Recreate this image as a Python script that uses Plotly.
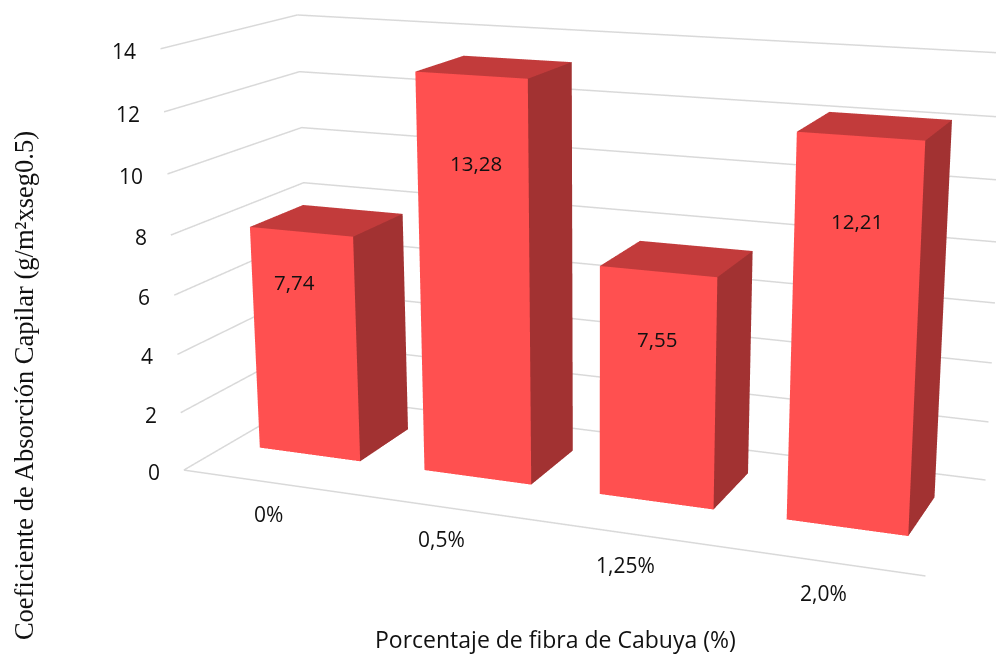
import plotly.graph_objects as go

categories = ["0%", "0,5%", "1,25%", "2,0%"]
values = [7.74, 13.28, 7.55, 12.21]
labels = ["7,74", "13,28", "7,55", "12,21"]
z_ticks = [0, 2, 4, 6, 8, 10, 12, 14]

label_x = [-0.05, 1.02, 2, 3]
label_z = [6.0, 10.5, 5.4, 9.67]

# camera (plotly's field of view is fixed, so the scene is drawn larger and the page window crops it)
eye = dict(x=2.7843, y=-6.9793, z=1.9046)
center = dict(x=0.3425, y=-0.7548, z=0.0285)
aspect = dict(x=2.8501, y=1, z=1.6)
k, ox, oy = 2.676, 95.484, -6.037
bw = 0.1542 * 4
y0, y1 = 0.3327, 0.7459
x_range = [-0.5, 3.5]

W = 996 * k; H = 655 * k
oL = (W - 996) / 2 - ox; oT = (H - 655) / 2 - oy
def px(x): return (x + oL) / W
def py(y): return 1 - (y + oT) / H

fig = go.Figure()
colors = ["#FF5050", "#C23B3B", "#A23232"]
gx, gy, gz = [], [], []
for z in z_ticks:
    gx += [x_range[0], x_range[0], x_range[1], None]; gy += [0, 1, 1, None]; gz += [z, z, z, None]
gx += [x_range[0], x_range[1]]; gy += [0, 0]; gz += [0, 0]
fig.add_trace(go.Scatter3d(x=gx, y=gy, z=gz, mode="lines", line=dict(color="#D9D9D9", width=3), hoverinfo="skip", connectgaps=False))
for i, v in enumerate(values):
    xa, xb = i - bw / 2, i + bw / 2
    X = [xa, xb, xb, xa, xa, xb, xb, xa]; Y = [y0, y0, y1, y1, y0, y0, y1, y1]; Z = [0, 0, 0, 0, v, v, v, v]
    I = [0, 0, 4, 4, 1, 1]; J = [1, 5, 5, 6, 2, 6]; Kk = [5, 4, 6, 7, 6, 5]
    fc = [colors[0]] * 2 + [colors[1]] * 2 + [colors[2]] * 2
    fig.add_trace(go.Mesh3d(x=X, y=Y, z=Z, i=I, j=J, k=Kk, facecolor=fc, flatshading=True,
                            lighting=dict(ambient=1, diffuse=0, specular=0, fresnel=0), hoverinfo="skip"))
ax = dict(visible=True, showgrid=False, showline=False, zeroline=False, showticklabels=False,
          showbackground=False, ticks="", title="", showspikes=False)
ink = "#111"
ann = [dict(x=x_range[0], y=0, z=z, text=str(z), showarrow=False, xanchor="right", xshift=-22, yshift=-2,
            font=dict(family="Open Sans", size=21, color=ink)) for z in z_ticks]
ann += [dict(x=i, y=0, z=0, text=c_, showarrow=False, xshift=2, yshift=-32,
             font=dict(family="Open Sans", size=21, color=ink)) for i, c_ in enumerate(categories)]
ann += [dict(x=x_, y=y0, z=z, text=l, showarrow=False, font=dict(family="Open Sans", size=20.5, color=ink))
        for x_, l, z in zip(label_x, labels, label_z)]
fig.update_layout(
    width=W, height=H, margin=dict(l=0, r=0, t=0, b=0), showlegend=False, paper_bgcolor="white",
    scene=dict(domain=dict(x=[0, 1], y=[0, 1]), aspectmode="manual", aspectratio=aspect,
               camera=dict(eye=eye, center=center, up=dict(x=0, y=0, z=1), projection=dict(type="perspective")),
               xaxis=dict(ax, range=x_range), yaxis=dict(ax, range=[0, 1]), zaxis=dict(ax, range=[0, 14]), annotations=ann),
    annotations=[
        dict(xref="paper", yref="paper", x=px(555), y=py(638), xanchor="center", yanchor="middle",
             text="Porcentaje de fibra de Cabuya (%)", showarrow=False, font=dict(family="Open Sans", size=23, color=ink)),
        dict(xref="paper", yref="paper", x=px(24), y=py(385), xanchor="center", yanchor="middle",
             text="Coeficiente de Absorción Capilar (g/m²xseg0.5)", textangle=-90, showarrow=False,
             font=dict(family="Liberation Serif", size=26.5, color=ink))])
post = ("document.body.style.margin='0';document.body.style.overflow='hidden';"
        "var g=document.querySelector('.plotly-graph-div');g.style.position='absolute';"
        "g.style.left='%dpx';g.style.top='%dpx';" % (-oL, -oT))
fig.write_html("out.html", post_script=post)
